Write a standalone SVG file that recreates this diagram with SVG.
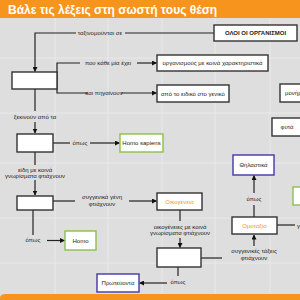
<svg xmlns="http://www.w3.org/2000/svg" width="300" height="300" viewBox="0 0 300 300">
<defs>
<marker id="ar" viewBox="0 0 10 10" refX="9" refY="5" markerWidth="5" markerHeight="5" orient="auto" markerUnits="userSpaceOnUse">
<path d="M0,0 L10,5 L0,10 z" fill="#111"/>
</marker>
<style>
.bg{fill:#dedede}
.grid line{stroke:#e9e9e9;stroke-width:1}
.box{fill:#fff;stroke:#333;stroke-width:1.4}
.blue{fill:#fff;stroke:#4038a8;stroke-width:1.4}
.green{fill:#fff;stroke:#8cbf4a;stroke-width:1.4}
.t{font-family:"Liberation Sans",Arial,sans-serif;font-size:6px;fill:#222;text-anchor:middle;dominant-baseline:central}
.o{fill:#f7941d}
.b{font-weight:bold}
.c path{fill:none;stroke:#222;stroke-width:1.2}
.title{font-family:"Liberation Sans",Arial,sans-serif;font-size:12px;font-weight:bold;fill:#fff}
</style>
</defs>
<rect class="bg" x="0" y="0" width="300" height="300"/>
<g class="grid">
<line x1="55" y1="18" x2="55" y2="294"/>
<line x1="108" y1="18" x2="108" y2="294"/>
<line x1="162" y1="18" x2="162" y2="294"/>
<line x1="215" y1="18" x2="215" y2="294"/>
<line x1="270" y1="18" x2="270" y2="294"/>
<line x1="0" y1="58" x2="300" y2="58"/>
<line x1="0" y1="113" x2="300" y2="113"/>
<line x1="0" y1="163" x2="300" y2="163"/>
<line x1="0" y1="218" x2="300" y2="218"/>
<line x1="0" y1="263" x2="300" y2="263"/>
</g>
<rect x="0" y="0" width="300" height="18" fill="#f7941d"/>
<text class="title" x="8" y="13.5">Βάλε τις λέξεις στη σωστή τους θέση</text>
<path d="M0,300 V298 Q0,294 6,294 H300 V300 z" fill="#f7941d"/>

<g class="c">
<path d="M214,33 H125"/>
<path d="M76,33 H35 V71.5" marker-end="url(#ar)"/>
<path d="M57,80 V63 H80"/>
<path d="M137,63 H156.5" marker-end="url(#ar)"/>
<path d="M57,80 V93 H88"/>
<path d="M121,93 H156.5" marker-end="url(#ar)"/>
<path d="M35,89 V111"/>
<path d="M35,122 V133" marker-end="url(#ar)"/>
<path d="M53,143 H70"/>
<path d="M90,143 H119.5" marker-end="url(#ar)"/>
<path d="M35,152 V165"/>
<path d="M35,180 V195" marker-end="url(#ar)"/>
<path d="M53,201 H75"/>
<path d="M129,201 H156.5" marker-end="url(#ar)"/>
<path d="M33,210 V235"/>
<path d="M47,240.5 H64.5" marker-end="url(#ar)"/>
<path d="M180,210 V221"/>
<path d="M180,238 V247.5" marker-end="url(#ar)"/>
<path d="M178,267 V276"/>
<path d="M167,283 H139.5" marker-end="url(#ar)"/>
<path d="M201,258 H222"/>
<path d="M254,246 V235" marker-end="url(#ar)"/>
<path d="M254,217 V205"/>
<path d="M254,193 V175.5" marker-end="url(#ar)"/>
<path d="M277,225 H295"/>
</g>

<g class="labels">
<text class="t" x="100" y="33">ταξινομούνται σε</text>
<text class="t" x="108" y="63">που κάθε μία έχει</text>
<text class="t" x="104" y="93">και πηγαίνουν</text>
<text class="t" x="35" y="117">ξεκινούν από τα</text>
<text class="t" x="80" y="143">όπως</text>
<text class="t" x="35" y="170">είδη με κοινά</text>
<text class="t" x="35" y="176">γνωρίσματα φτιάχνουν</text>
<text class="t" x="102" y="197">συγγενικά γένη</text>
<text class="t" x="102" y="204">φτιάχνουν</text>
<text class="t" x="33" y="240">όπως</text>
<text class="t" x="180" y="227">οικογένειες με κοινά</text>
<text class="t" x="180" y="233">γνωρίσματα φτιάχνουν</text>
<text class="t" x="178" y="282">όπως</text>
<text class="t" x="254" y="251">συγγενικές τάξεις</text>
<text class="t" x="254" y="258">φτιάχνουν</text>
<text class="t" x="254" y="199">όπως</text>
<text class="t" x="297" y="226" style="text-anchor:start">γ</text>
</g>

<g id="n-all"><rect class="box" x="214" y="25" width="83" height="16"/><text class="t b" x="255.5" y="33">ΟΛΟΙ ΟΙ ΟΡΓΑΝΙΣΜΟΙ</text></g>
<g id="n-b1"><rect class="box" x="12" y="72" width="45" height="17"/></g>
<g id="n-org"><rect class="box" x="157" y="55" width="111" height="16"/><text class="t" x="212.5" y="63">οργανισμούς με κοινά χαρακτηριστικά</text></g>
<g id="n-eid"><rect class="box" x="157" y="85" width="72" height="17"/><text class="t" x="193" y="93.5">από το ειδικό στο γενικό</text></g>
<g id="n-mon"><rect class="box" x="280" y="84" width="40" height="18"/><text class="t" x="285" y="93" style="text-anchor:start">μονήρη</text></g>
<g id="n-fyta"><rect class="box" x="272" y="118" width="30" height="18"/><text class="t" x="287" y="127">φυτά</text></g>
<g id="n-b2"><rect class="box" x="17" y="134" width="36" height="18"/></g>
<g id="n-hs"><rect class="green" x="120" y="134" width="43" height="18"/><text class="t" x="141.5" y="143">Homo sapiens</text></g>
<g id="n-b3"><rect class="box" x="17" y="196" width="36" height="14"/></g>
<g id="n-oik"><rect class="box" x="157" y="193" width="45" height="17"/><text class="t o" x="179.5" y="201.5">Οικογένεια</text></g>
<g id="n-homo"><rect class="green" x="65" y="231" width="31" height="19"/><text class="t" x="80.5" y="240.5">Homo</text></g>
<g id="n-b4"><rect class="box" x="157" y="248" width="44" height="19"/></g>
<g id="n-prot"><rect class="blue" x="97" y="274" width="42" height="18"/><text class="t" x="118" y="283">Πρωτεύοντα</text></g>
<g id="n-omo"><rect class="box" x="232" y="217" width="45" height="17"/><text class="t o" x="254.5" y="225.5">Ομοταξία</text></g>
<g id="n-thil"><rect class="blue" x="233" y="155" width="41" height="20"/><text class="t" x="253.5" y="165">Θηλαστικά</text></g>
<g id="n-g"><rect class="green" x="293" y="187" width="20" height="18"/></g>
</svg>
